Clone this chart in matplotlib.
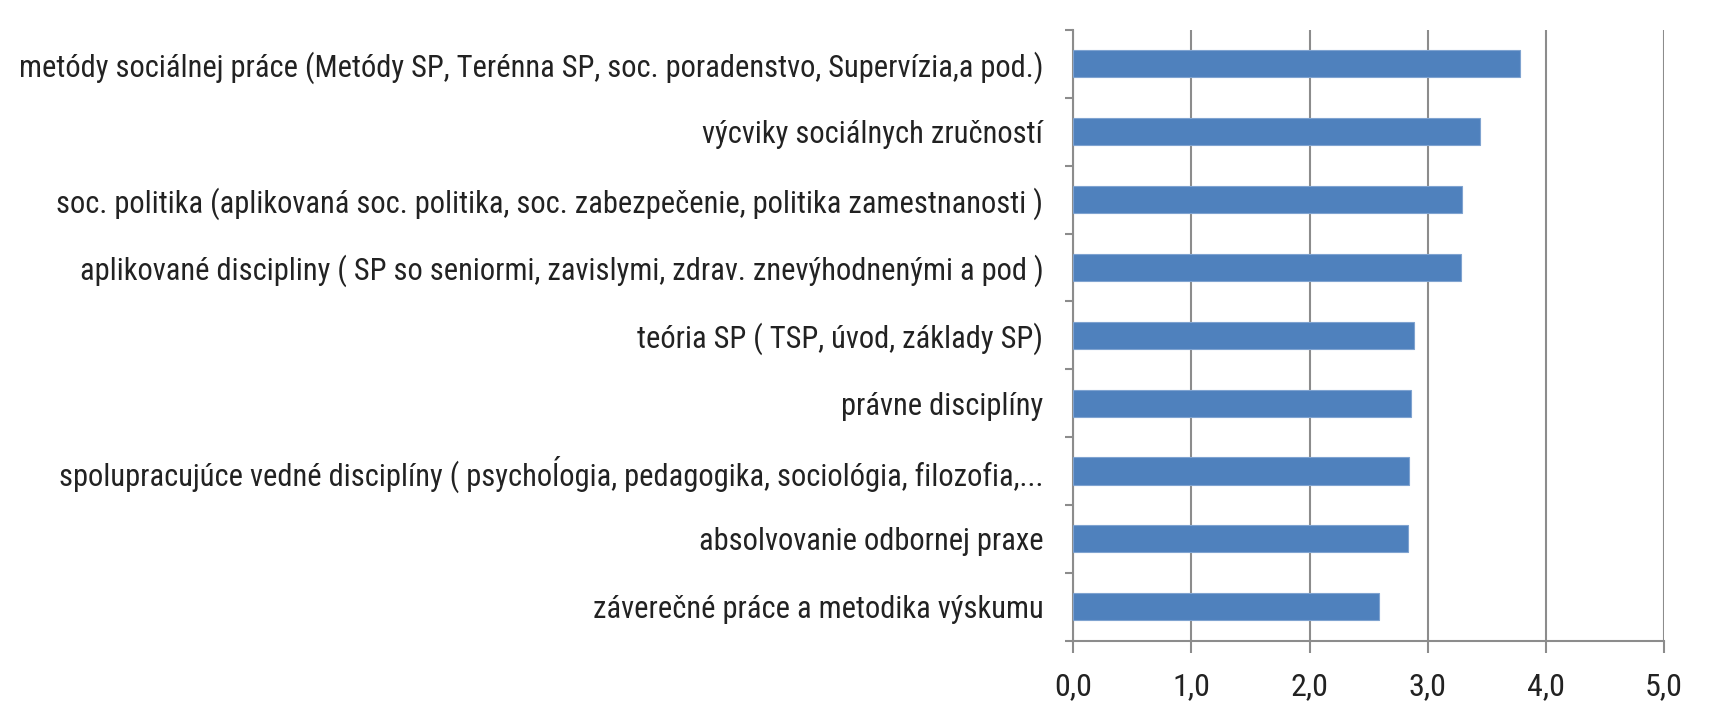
import matplotlib
matplotlib.use("Agg")
import matplotlib.pyplot as plt
from matplotlib import font_manager
import numpy as np

categories = [
    "metódy sociálnej práce (Metódy SP, Terénna SP, soc. poradenstvo, Supervízia,a pod.)",
    "výcviky sociálnych zručností",
    "soc. politika (aplikovaná soc. politika, soc. zabezpečenie, politika zamestnanosti )",
    "aplikované discipliny ( SP so seniormi, zavislymi, zdrav. znevýhodnenými a pod )",
    "teória SP ( TSP, úvod, základy SP)",
    "právne disciplíny",
    "spolupracujúce vedné disciplíny ( psychoĺogia, pedagogika, sociológia, filozofia,...",
    "absolvovanie odbornej praxe",
    "záverečné práce a metodika výskumu",
]
values = [3.78, 3.44, 3.29, 3.28, 2.88, 2.86, 2.84, 2.83, 2.59]
xticks = [0, 1, 2, 3, 4, 5]
xticklabels = ["0,0", "1,0", "2,0", "3,0", "4,0", "5,0"]

avail = {f.name for f in font_manager.fontManager.ttflist}
fam = "DejaVu Sans"
for cand in ["Liberation Sans Narrow", "Roboto Condensed", "Open Sans Condensed", "Lato", "Liberation Sans"]:
    if cand in avail:
        fam = cand
        break
plt.rcParams['font.family'] = [fam, 'DejaVu Sans']

W, H = 1723, 725
fig = plt.figure(figsize=(W / 100, H / 100), dpi=100)
L, R, T, B = 1073.3, 1664.0, 30.0, 640.7
ax = fig.add_axes([L / W, 1 - B / H, (R - L) / W, (B - T) / H])

y = np.arange(len(categories))[::-1]
ax.barh(y, values, height=0.4, color="#4F81BD", edgecolor="#7FA3D0", linewidth=0.8, zorder=3)

ax.set_xlim(0, 5)
ax.set_ylim(-0.5, len(categories) - 0.5)
ax.set_xticks(xticks)
ax.set_yticks(y)

renderer = fig.canvas.get_renderer()
def fit(s, target):
    t = fig.text(0, 0, s, fontsize=20)
    w = t.get_window_extent(renderer).width
    t.remove()
    return 20 * target / w

fs_y = fit(categories[0], 1023)
fs_x = fit("0,0", 38)

ax.set_xticklabels(xticklabels, fontsize=fs_x, color="#222222")
ax.set_yticklabels(categories, fontsize=fs_y, color="#222222")
ax.tick_params(axis='y', which='major', length=0, pad=30 * 0.72)
ax.set_yticks(np.arange(-0.5, len(categories)), minor=True)
ax.tick_params(axis='y', which='minor', length=8 * 0.72, color="#8C8C8C", width=1.5, direction='out')
ax.tick_params(axis='x', which='major', length=12 * 0.72, color="#8C8C8C", width=1.5, direction='out', pad=14)

ax.grid(axis='x', color="#8C8C8C", linewidth=1.5, zorder=0)
for s in ['top', 'right']:
    ax.spines[s].set_visible(False)
for s in ['left', 'bottom']:
    ax.spines[s].set_color("#8C8C8C")
    ax.spines[s].set_linewidth(1.5)

fig.savefig("out.png", dpi=100)
